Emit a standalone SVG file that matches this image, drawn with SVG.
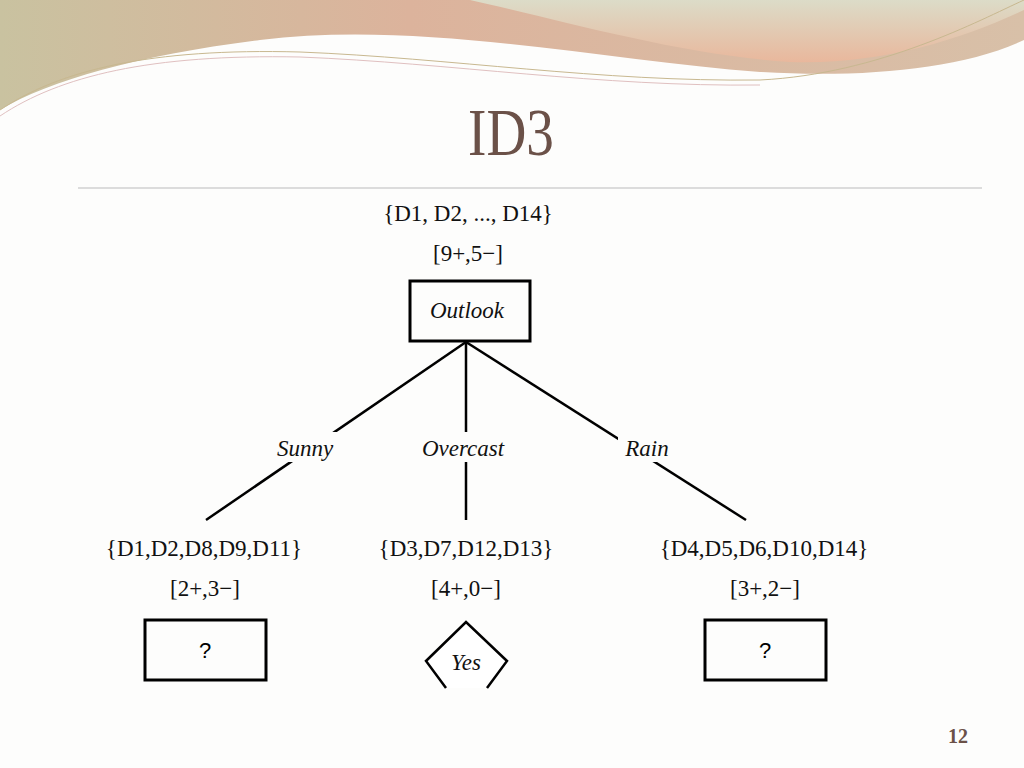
<svg xmlns="http://www.w3.org/2000/svg" width="1024" height="768" viewBox="0 0 1024 768">
<defs>
<linearGradient id="g1" x1="0" y1="0" x2="1" y2="0"><stop offset="0" stop-color="#c9c2a0"/><stop offset="0.4" stop-color="#dcb39c"/><stop offset="1" stop-color="#d8c0a8"/></linearGradient>
<linearGradient id="g2" x1="0" y1="0" x2="0" y2="1"><stop offset="0" stop-color="#dcdcc8"/><stop offset="1" stop-color="#e9b79c"/></linearGradient>
</defs>
<style>
.t{font-family:"Liberation Serif",serif;font-size:23px;fill:#111;text-anchor:middle}
.i{font-style:italic}
.b{fill:none;stroke:#000;stroke-width:3}
.e{stroke:#000;stroke-width:2.5;fill:none}
</style>
<rect width="1024" height="768" fill="#fdfdfc"/>
<g id="background">
<path d="M0,0 H1024 V40 C960,70 860,78 760,72 C600,60 420,20 260,40 C140,55 50,80 0,110 Z" fill="url(#g1)"/>
<path d="M470,0 H1024 V10 C960,40 880,65 790,62 C680,55 560,20 470,0 Z" fill="url(#g2)"/>
<path d="M0,110 C60,70 150,48 300,52 C450,58 600,82 760,80 C880,74 980,20 1024,0" fill="none" stroke="#c8b890" stroke-width="1"/>
<path d="M0,116 C60,76 150,54 300,57 C450,63 600,87 760,85" fill="none" stroke="#e0c0c0" stroke-width="1"/>
</g>
<text x="0" y="0" transform="translate(511,155) scale(0.92,1.12)" font-family="Liberation Serif,serif" font-size="60" fill="#6b5148" text-anchor="middle">ID3</text>
<line x1="78" y1="188" x2="982" y2="188" stroke="#bbb" stroke-width="1.2"/>
<g id="connectors">
<line class="e" x1="466" y1="342" x2="206" y2="520"/>
<line class="e" x1="466" y1="342" x2="466" y2="520"/>
<line class="e" x1="466" y1="342" x2="746" y2="520"/>
<rect x="268" y="432" width="72" height="30" fill="#fdfdfc"/>
<rect x="414" y="432" width="100" height="30" fill="#fdfdfc"/>
<rect x="618" y="432" width="58" height="30" fill="#fdfdfc"/>
<text class="t i" x="305" y="456">Sunny</text>
<text class="t i" x="463" y="456">Overcast</text>
<text class="t i" x="647" y="456">Rain</text>
</g>
<g id="root">
<text class="t" x="468" y="221">{D1, D2, ..., D14}</text>
<text class="t" x="468" y="261">[9+,5−]</text>
<rect class="b" x="410" y="281" width="120" height="60" fill="#fff"/>
<text class="t i" x="467" y="318">Outlook</text>
</g>
<g id="sunny">
<text class="t" x="204" y="556">{D1,D2,D8,D9,D11}</text>
<text class="t" x="205" y="596">[2+,3−]</text>
<rect class="b" x="145" y="620" width="121" height="60" fill="#fff"/>
<text x="205" y="658" font-family="Liberation Sans,sans-serif" font-size="22" text-anchor="middle">?</text>
</g>
<g id="overcast">
<text class="t" x="466" y="556">{D3,D7,D12,D13}</text>
<text class="t" x="466" y="596">[4+,0−]</text>
<polyline points="446,688 426,661 466,622 507,661 487,688" fill="#fff" stroke="#000" stroke-width="2.5"/>
<text class="t i" x="466" y="670">Yes</text>
</g>
<g id="rain">
<text class="t" x="764" y="556">{D4,D5,D6,D10,D14}</text>
<text class="t" x="765" y="596">[3+,2−]</text>
<rect class="b" x="705" y="620" width="121" height="60" fill="#fff"/>
<text x="765" y="658" font-family="Liberation Sans,sans-serif" font-size="22" text-anchor="middle">?</text>
</g>
<text x="958" y="743" font-family="Liberation Serif,serif" font-size="20" font-weight="bold" fill="#6b5148" text-anchor="middle">12</text>
</svg>
